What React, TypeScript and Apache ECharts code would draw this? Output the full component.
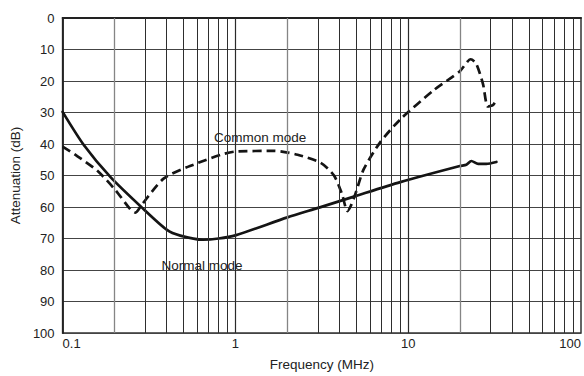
import React, { useEffect, useRef } from "react";
import * as echarts from "echarts";

const freqNormal = [0.1, 0.133, 0.19, 0.288, 0.4, 0.48, 0.65, 0.8, 1.0, 2.0, 3.05, 4.85, 9.0, 19.9, 21.7, 23.2, 25.4, 28.3, 32.4];
const attNormal = [29.8, 40.4, 50.6, 60.2, 67.2, 69.1, 70.4, 70.0, 69.0, 63.3, 60.2, 56.7, 52.1, 47.0, 46.6, 45.4, 46.3, 46.3, 45.7];

const freqCommon = [0.1, 0.122, 0.159, 0.202, 0.247, 0.264, 0.288, 0.384, 0.546, 1.0, 1.68, 2.29, 3.12, 3.72, 4.13, 4.45, 4.65, 4.96, 5.53, 6.9, 9.0, 14.0, 19.9, 23.0, 24.7, 27.1, 28.9, 31.0, 32.6];
const attCommon = [40.8, 43.9, 48.5, 54.6, 60.8, 61.8, 59.2, 51.0, 47.0, 42.4, 42.2, 43.4, 46.0, 50.0, 55.7, 61.3, 59.7, 55.7, 48.0, 39.4, 32.2, 23.0, 16.9, 13.1, 14.4, 21.0, 28.1, 27.6, 25.6];

const decades = [0.1, 1, 10];
const multipliers = [2, 3, 4, 5, 6, 7, 8, 9];
const majorFreqs = [1, 10];

const labelCommon = { text: "Common mode", freq: 1.39, att: 37.8 };
const labelNormal = { text: "Normal mode", freq: 0.64, att: 78.6 };

const FONT = "'Liberation Sans', Arial, Helvetica, sans-serif";

export default function App() {
  const ref = useRef<HTMLDivElement>(null);
  useEffect(() => {
    if (!ref.current) return;
    const chart = echarts.init(ref.current, undefined, { renderer: "svg" });
    const minorLines: any[] = [];
    decades.forEach((d) => {
      multipliers.forEach((m) => {
        minorLines.push({
          xAxis: +(d * m).toPrecision(3),
          lineStyle: { color: m === 2 ? "#858585" : "#2e2e2e", width: m === 2 ? 1.3 : 1, type: "solid" },
        });
      });
    });
    majorFreqs.forEach((f) => {
      minorLines.push({ xAxis: f, lineStyle: { color: "#2a2a2a", width: 1.2, type: "solid" } });
    });

    const tickStyle = { fontFamily: FONT, fontSize: 13, color: "#222" };
    const textStyle = { fontFamily: FONT, fontSize: 13.5, color: "#222" };

    chart.setOption({
      animation: false,
      backgroundColor: "#fff",
      textStyle: { fontFamily: FONT },
      grid: {
        left: 60,
        right: 1,
        top: 18,
        bottom: 31,
        show: true,
        borderColor: "#333",
        borderWidth: 1.5,
        backgroundColor: "transparent",
      },
      xAxis: {
        type: "log",
        logBase: 10,
        min: 0.1,
        max: 100,
        name: "Frequency (MHz)",
        nameLocation: "middle",
        nameGap: 24,
        nameTextStyle: textStyle,
        axisLine: { show: true, lineStyle: { color: "#222", width: 1.8 } },
        axisTick: { show: false },
        axisLabel: {
          ...tickStyle,
          margin: 4,
          alignMinLabel: "left",
          alignMaxLabel: "right",
          formatter: (v: number) => String(+v.toPrecision(3)),
        },
        splitLine: { show: false },
      },
      yAxis: {
        type: "value",
        inverse: true,
        min: 0,
        max: 100,
        interval: 10,
        name: "Attenuation (dB)",
        nameLocation: "middle",
        nameGap: 37,
        nameTextStyle: textStyle,
        axisLine: { show: true, lineStyle: { color: "#222", width: 1.8 } },
        axisTick: { show: false },
        axisLabel: { ...tickStyle, margin: 8 },
        splitLine: { show: true, lineStyle: { color: "#444", width: 1 } },
      },
      series: [
        {
          type: "line",
          data: [],
          z: 1,
          silent: true,
          markLine: {
            silent: true,
            symbol: ["none", "none"],
            label: { show: false },
            animation: false,
            data: minorLines,
          },
        },
        {
          name: "Normal mode",
          type: "line",
          z: 3,
          smooth: 0.25,
          symbol: "none",
          data: freqNormal.map((f, i) => [f, attNormal[i]]),
          lineStyle: { color: "#141414", width: 2.7, type: "solid", cap: "round", join: "round" },
          markPoint: {
            silent: true,
            symbol: "circle",
            symbolSize: 1,
            itemStyle: { color: "rgba(0,0,0,0)" },
            label: { show: true, position: "inside", ...textStyle, formatter: labelNormal.text },
            data: [{ coord: [labelNormal.freq, labelNormal.att] }],
          },
        },
        {
          name: "Common mode",
          type: "line",
          z: 3,
          smooth: 0.25,
          symbol: "none",
          data: freqCommon.map((f, i) => [f, attCommon[i]]),
          lineStyle: { color: "#141414", width: 2.7, type: [9, 5], cap: "butt", join: "round" },
          markPoint: {
            silent: true,
            symbol: "circle",
            symbolSize: 1,
            itemStyle: { color: "rgba(0,0,0,0)" },
            label: { show: true, position: "inside", ...textStyle, formatter: labelCommon.text },
            data: [{ coord: [labelCommon.freq, labelCommon.att] }],
          },
        },
      ],
    });
    return () => chart.dispose();
  }, []);
  return (
    <div
      ref={ref}
      style={{ position: "fixed", left: 0, top: 0, width: 584, height: 376, background: "#fff" }}
    />
  );
}
